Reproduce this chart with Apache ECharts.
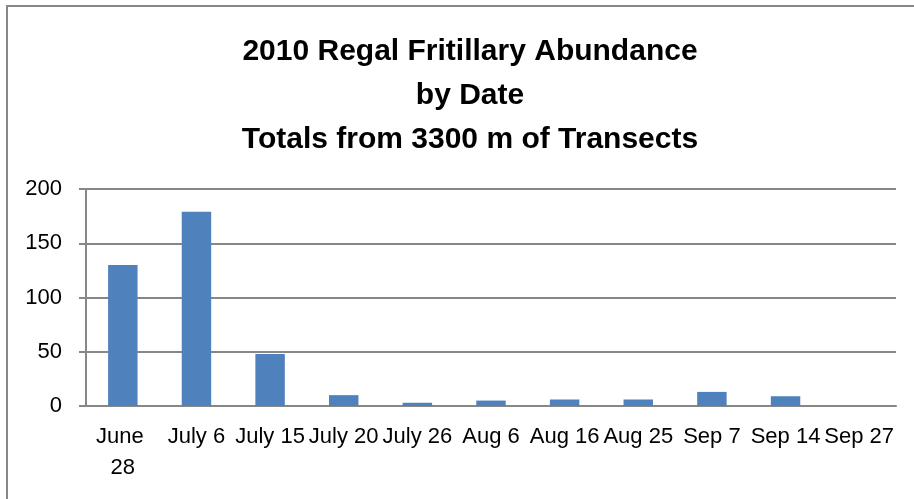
<!DOCTYPE html>
<html>
<head>
<meta charset="utf-8">
<script src="https://cdn.jsdelivr.net/npm/echarts@6/dist/echarts.min.js"></script>
<style>
    html, body { margin: 0; padding: 0; background: #fff; }
    #abundance { width: 914px; height: 499px; }
</style>
</head>
<body>
<div id="abundance"></div>
<script>
    // survey dates and totals
    var dates = ['June 28', 'July 6', 'July 15', 'July 20', 'July 26', 'Aug 6', 'Aug 16', 'Aug 25', 'Sep 7', 'Sep 14', 'Sep 27'];
    var totals = [130, 179, 48, 10, 3, 5, 6, 6, 13, 9, 0];
    var yTicks = [0, 50, 100, 150, 200];

    var labelFont = 'Liberation Sans';
    var gridColor = '#878787';

    var chart = echarts.init(document.getElementById('abundance'));

    var option = {
        backgroundColor: '#fff',
        animation: false,
        title: {
            text: '2010 Regal Fritillary Abundance\nby Date\nTotals from 3300 m of Transects',
            left: 465,
            textAlign: 'center',
            top: 25,
            textStyle: {
                fontFamily: labelFont,
                fontSize: 30,
                fontWeight: 'bold',
                color: '#000',
                lineHeight: 44
            }
        },
        // chart frame
        graphic: [{
            type: 'rect',
            shape: { x: 7, y: 6, width: 1000, height: 600 },
            style: { fill: 'none', stroke: gridColor, lineWidth: 2 },
            silent: true
        }],
        grid: {
            left: 86,
            right: 18,
            top: 189,
            bottom: 93
        },
        xAxis: {
            type: 'category',
            data: dates,
            axisTick: { show: false },
            axisLine: { lineStyle: { color: gridColor, width: 2 } },
            axisLabel: {
                interval: 0,
                margin: 15,
                width: 72,
                overflow: 'break',
                lineHeight: 31,
                fontFamily: labelFont,
                fontSize: 22,
                color: '#000'
            }
        },
        yAxis: {
            type: 'value',
            min: yTicks[0],
            max: yTicks[yTicks.length - 1],
            interval: 50,
            axisLine: { show: true, lineStyle: { color: gridColor, width: 2 } },
            axisTick: { show: true, length: 7, lineStyle: { color: gridColor, width: 2 } },
            splitLine: { lineStyle: { color: gridColor, width: 2 } },
            axisLabel: {
                margin: 24,
                fontFamily: labelFont,
                fontSize: 22,
                color: '#000'
            }
        },
        series: [{
            type: 'bar',
            data: totals,
            barWidth: '40%',
            itemStyle: {
                color: '#4F81BD'
            }
        }]
    };

    chart.setOption(option);
</script>
</body>
</html>
